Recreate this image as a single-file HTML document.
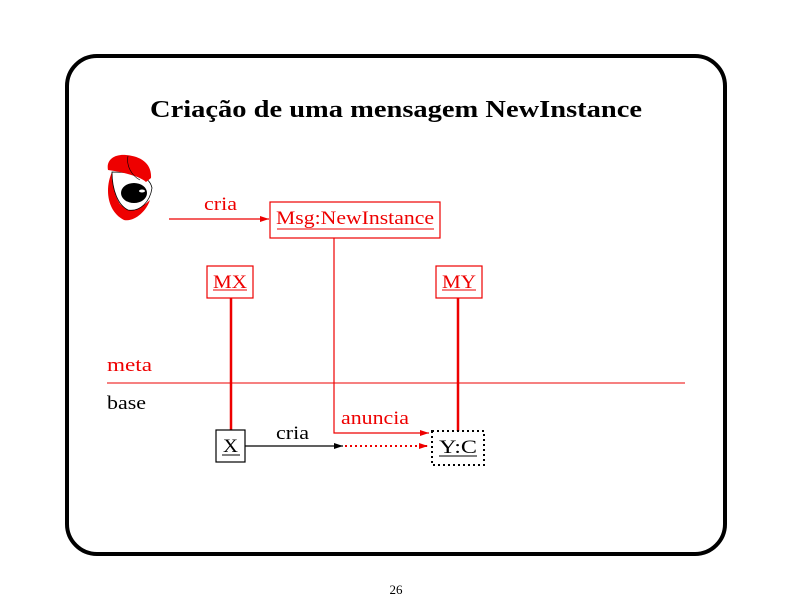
<!DOCTYPE html>
<html><head><meta charset="utf-8"><style>
html,body{margin:0;padding:0;background:#fff;}
svg{display:block;}
text{font-family:"Liberation Serif",serif;}
</style></head><body>
<svg width="792" height="612" viewBox="0 0 792 612" xmlns="http://www.w3.org/2000/svg">
<defs>
<marker id="ar" markerWidth="10" markerHeight="8" refX="9" refY="4" orient="auto" markerUnits="userSpaceOnUse"><path d="M0,1 L9,4 L0,7 z" fill="#e00"/></marker>
<marker id="ab" markerWidth="10" markerHeight="8" refX="9" refY="4" orient="auto" markerUnits="userSpaceOnUse"><path d="M0,1 L9,4 L0,7 z" fill="#000"/></marker>
</defs>
<rect x="67" y="56" width="658" height="498" rx="30" ry="30" fill="none" stroke="#000" stroke-width="4"/>
<text x="150" y="117" font-size="24" font-weight="bold" textLength="492" lengthAdjust="spacingAndGlyphs">Criação de uma mensagem NewInstance</text>

<!-- icon -->
<g>
<path d="M112,172 C104,190 108,212 124,220 C134,222 146,212 150,200 C140,210 128,212 120,204 C114,195 113,184 112,172 z" fill="#e00"/>
<path d="M112,172 C112,190 118,205 128,210 C140,212 150,202 152,188 C150,178 140,172 112,172 z" fill="#fff" stroke="#000" stroke-width="0.8"/>
<ellipse cx="134" cy="193" rx="13" ry="10" fill="#000"/>
<ellipse cx="142" cy="191" rx="3" ry="1.5" fill="#fff"/>
<path d="M108,170 C106,160 114,154 126,155 C140,156 152,163 151,178 L146,182 C140,176 122,172 108,170 z" fill="#e00"/>
<path d="M128,156 C126,166 132,176 140,180" fill="none" stroke="#000" stroke-width="0.6"/>
</g>

<!-- cria arrow top -->
<text x="204" y="210" font-size="19" fill="#e00" textLength="33" lengthAdjust="spacingAndGlyphs">cria</text>
<line x1="169" y1="219" x2="269" y2="219" stroke="#e00" stroke-width="1.2" marker-end="url(#ar)"/>
<rect x="270" y="202" width="170" height="36" fill="#fff" stroke="#e00" stroke-width="1.2"/>
<text x="276" y="224" font-size="19" fill="#e00" textLength="158" lengthAdjust="spacingAndGlyphs">Msg:NewInstance</text>
<line x1="277" y1="229" x2="434" y2="229" stroke="#e00" stroke-width="1"/>

<!-- MX -->
<rect x="207" y="266" width="46" height="32" fill="#fff" stroke="#e00" stroke-width="1.2"/>
<text x="213" y="288" font-size="19" fill="#e00" textLength="34" lengthAdjust="spacingAndGlyphs">MX</text>
<line x1="213" y1="290" x2="247" y2="290" stroke="#e00" stroke-width="1"/>
<line x1="231" y1="298" x2="231" y2="431" stroke="#e00" stroke-width="2.5"/>
<!-- MY -->
<rect x="436" y="266" width="46" height="32" fill="#fff" stroke="#e00" stroke-width="1.2"/>
<text x="442" y="288" font-size="19" fill="#e00" textLength="34" lengthAdjust="spacingAndGlyphs">MY</text>
<line x1="442" y1="290" x2="476" y2="290" stroke="#e00" stroke-width="1"/>
<line x1="458" y1="298" x2="458" y2="431" stroke="#e00" stroke-width="2.5"/>

<!-- meta/base -->
<text x="107" y="371" font-size="19" fill="#e00" textLength="45" lengthAdjust="spacingAndGlyphs">meta</text>
<line x1="107" y1="383" x2="685" y2="383" stroke="#e00" stroke-width="1"/>
<text x="107" y="409" font-size="19" fill="#000" textLength="39" lengthAdjust="spacingAndGlyphs">base</text>

<!-- anuncia path -->
<polyline points="334,238 334,433 429,433" fill="none" stroke="#e00" stroke-width="1.2" marker-end="url(#ar)"/>
<text x="341" y="424" font-size="19" fill="#e00" textLength="68" lengthAdjust="spacingAndGlyphs">anuncia</text>

<!-- X -->
<rect x="216" y="430" width="29" height="32" fill="#fff" stroke="#000" stroke-width="1.2"/>
<text x="223" y="452" font-size="19" textLength="15" lengthAdjust="spacingAndGlyphs">X</text>
<line x1="222" y1="455" x2="240" y2="455" stroke="#000" stroke-width="1"/>
<text x="276" y="439" font-size="19" textLength="33" lengthAdjust="spacingAndGlyphs">cria</text>
<line x1="245" y1="446" x2="343" y2="446" stroke="#000" stroke-width="1.2" marker-end="url(#ab)"/>
<line x1="345" y1="446" x2="428" y2="446" stroke="#e00" stroke-width="2" stroke-dasharray="2,3" marker-end="url(#ar)"/>

<!-- Y:C -->
<rect x="432" y="431" width="52" height="34" fill="#fff" stroke="#000" stroke-width="2" stroke-dasharray="2,3"/>
<text x="439" y="453" font-size="19" textLength="38" lengthAdjust="spacingAndGlyphs">Y:C</text>
<line x1="439" y1="456" x2="477" y2="456" stroke="#000" stroke-width="1"/>

<text x="396" y="594" text-anchor="middle" font-size="13">26</text>
</svg>
</body></html>
